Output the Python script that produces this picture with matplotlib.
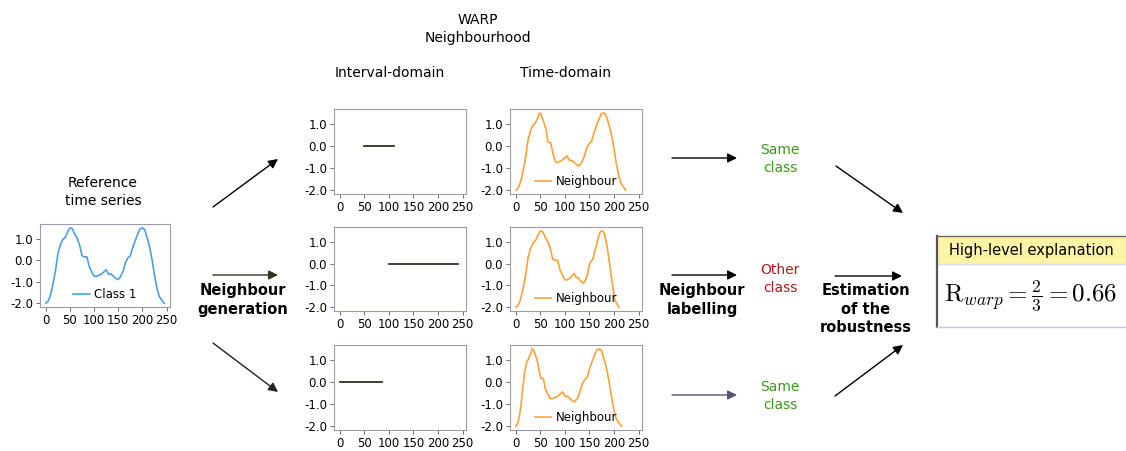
#!/usr/bin/env python3
# WARP neighbourhood diagram: reference series, interval/time-domain neighbours, robustness estimate

import matplotlib
matplotlib.use("Agg")
import matplotlib.pyplot as plt
from matplotlib.patches import Rectangle

plt.rcParams['font.family'] = ['DejaVu Sans']
plt.rcParams['axes.unicode_minus'] = False
plt.rcParams['mathtext.fontset'] = 'cm'

W, H = 1126, 451

# Reference time series (class 1)
ref_t = [0, 5, 10, 15, 20, 25, 30, 35, 40, 45, 50, 55, 60, 65, 70, 75, 80, 85, 90, 95,
         100, 105, 110, 115, 120, 125, 130, 135, 140, 145, 150, 155, 160, 165, 170, 175,
         180, 185, 190, 195, 200, 205, 210, 215, 220, 225, 230, 235, 240, 245]
ref_y = [-2.0, -1.9, -1.6, -1.1, -0.5, 0.3, 0.7, 0.95, 1.05, 1.3, 1.5, 1.45, 1.2, 1.0, 0.7,
         0.2, 0.15, 0.15, -0.3, -0.55, -0.75, -0.75, -0.7, -0.65, -0.55, -0.45, -0.65, -0.65,
         -0.75, -0.85, -0.9, -0.75, -0.5, -0.1, 0.1, 0.2, 0.6, 0.9, 1.2, 1.45, 1.5, 1.4, 1.0,
         0.6, 0.0, -0.7, -1.3, -1.7, -1.85, -2.0]

# Time stamps of the warped neighbours (same values, re-timed)
nb1_t = [0, 5, 10, 15, 20, 25, 30, 35, 40, 45, 48, 51, 55, 58, 62, 65, 68, 71, 75, 78,
         82, 85, 89, 94, 99, 104, 109, 114, 119, 124, 129, 134, 139, 144, 149, 154,
         159, 164, 169, 174, 179, 184, 189, 194, 199, 204, 209, 214, 219, 224]
nb2_t = [0, 5, 10, 15, 20, 25, 30, 35, 40, 45, 50, 55, 60, 65, 70, 75, 80, 85, 90, 95,
         100, 104, 108, 111, 115, 119, 123, 127, 130, 134, 138, 142, 146, 149, 153, 157,
         161, 165, 168, 172, 176, 180, 184, 187, 191, 195, 199, 202, 206, 210]
nb3_t = [0, 3, 7, 10, 13, 17, 20, 23, 26, 30, 33, 36, 40, 43, 46, 50, 53, 56, 60, 65,
         70, 75, 80, 85, 90, 95, 100, 105, 110, 115, 120, 125, 130, 135, 140, 145,
         150, 155, 160, 165, 170, 175, 180, 185, 190, 195, 200, 205, 210, 215]
neighbours_t = [nb1_t, nb2_t, nb3_t]

# Warped intervals (start, end) in the interval domain
intervals = [(50, 110), (100, 240), (0, 85)]
labels = ["Same\nclass", "Other\nclass", "Same\nclass"]
label_colors = ["#3a9a1a", "#b01c1c", "#3a9a1a"]

xticks = [0, 50, 100, 150, 200, 250]
yticks = [1.0, 0.0, -1.0, -2.0]
ytick_labels = ["1.0", "0.0", "-1.0", "-2.0"]

BLUE = "#4a9fea"
ORANGE = "#ffa235"
SPINE = "#9a9ab4"

fig = plt.figure(figsize=(W / 100, H / 100), dpi=100)


def add_px_axes(x0, y0, x1, y1):
    ax = fig.add_axes([x0 / W, 1 - y1 / H, (x1 - x0) / W, (y1 - y0) / H])
    ax.set_xlim(-12, 257)
    ax.set_ylim(-2.175, 1.675)
    ax.set_xticks(xticks)
    ax.set_yticks(yticks)
    ax.set_yticklabels(ytick_labels)
    ax.tick_params(labelsize=8.5, length=3, width=0.6, pad=2, color="#555555")
    for s in ax.spines.values():
        s.set_color(SPINE)
        s.set_linewidth(0.8)
    return ax


def add_legend(ax):
    ax.legend(loc="lower center", frameon=False, fontsize=8.5, handlelength=1.4,
              handletextpad=0.4, borderaxespad=0.1)


# reference
ax = add_px_axes(40, 224, 170, 307)
ax.plot(ref_t, ref_y, color=BLUE, lw=1.2, label="Class 1")
add_legend(ax)

rows = [(109, 194), (227, 311), (345, 430)]
for (y0, y1), nb_t, (a, b) in zip(rows, neighbours_t, intervals):
    ax_i = add_px_axes(334, y0, 466, y1)
    ax_i.plot([a, b], [0, 0], color="#2f2f25", lw=1.3)
    ax_t = add_px_axes(510, y0, 642, y1)
    ax_t.plot(nb_t, ref_y, color=ORANGE, lw=1.2, label="Neighbour")
    add_legend(ax_t)

# overlay in pixel coordinates for text and arrows
ov = fig.add_axes([0, 0, 1, 1], zorder=-1)
ov.set_xlim(0, W)
ov.set_ylim(H, 0)
ov.axis("off")

txt = dict(ha="center", va="center", fontsize=10)
bold = dict(ha="center", va="center", fontsize=10.5, fontweight="bold", linespacing=1.3)
ov.text(478, 29, "WARP\nNeighbourhood", linespacing=1.3, **txt)
ov.text(390, 73, "Interval-domain", **txt)
ov.text(566, 73, "Time-domain", **txt)
ov.text(103, 192, "Reference\ntime series", linespacing=1.3, **txt)
ov.text(243, 300, "Neighbour\ngeneration", **bold)
ov.text(702, 300, "Neighbour\nlabelling", **bold)
ov.text(866, 309, "Estimation\nof the\nrobustness", **bold)

for lab, col, yc in zip(labels, label_colors, [159, 279, 396]):
    ov.text(780, yc, lab, color=col, linespacing=1.3, **txt)


def arrow(x0, y0, x1, y1, color="black"):
    ov.annotate("", xy=(x1, y1), xytext=(x0, y0),
                arrowprops=dict(arrowstyle="-|>", color=color, lw=1.0,
                                mutation_scale=14, shrinkA=0, shrinkB=0))


arrow(213, 207, 278, 159)
arrow(213, 275, 278, 275, "#333322")
arrow(213, 343, 278, 392, "#222222")
arrow(672, 158, 737, 158)
arrow(672, 275, 737, 275)
arrow(672, 395, 737, 395, "#555570")
arrow(836, 166, 903, 213)
arrow(835, 276, 902, 276)
arrow(835, 396, 903, 345)

# high-level explanation box
ov.add_patch(Rectangle((937, 236), W - 937, 28, facecolor="#fdf4a6", edgecolor="none"))
ov.plot([937, W], [236, 236], color="#666666", lw=1.0)
ov.plot([937, W], [264, 264], color="#d8d8ee", lw=1.0)
ov.plot([937, 937], [236, 327], color="#555555", lw=1.6)
ov.plot([937, W], [327, 327], color="#c8c8d0", lw=1.0)
ov.text(1031, 251, "High-level explanation", ha="center", va="center", fontsize=10.5)
ov.text(944, 296, r"$\mathrm{R}_{warp} = \frac{2}{3} = 0.66$", ha="left", va="center",
        fontsize=18)

fig.savefig("out.png", dpi=100)
